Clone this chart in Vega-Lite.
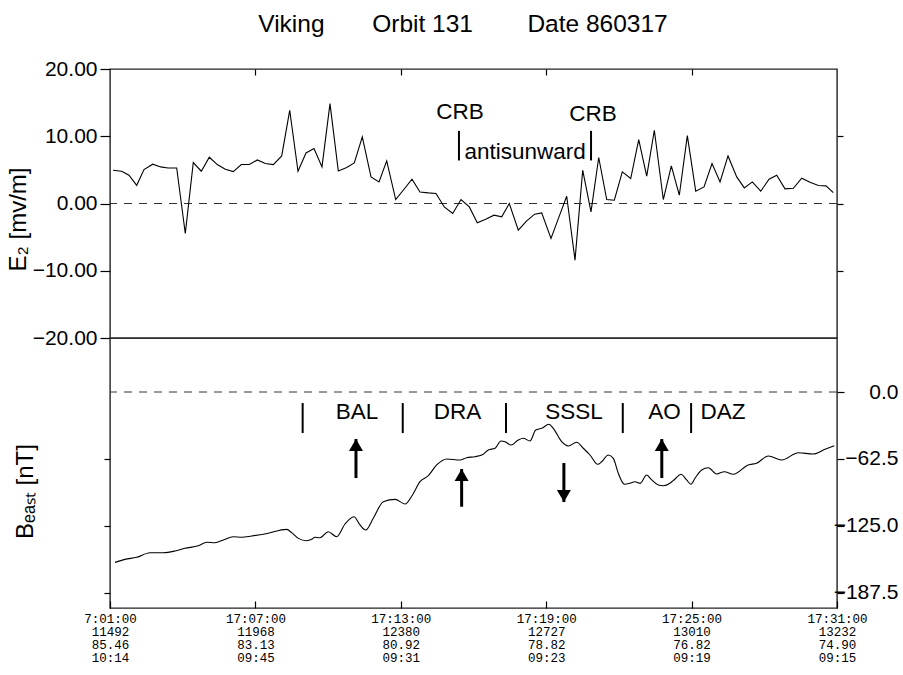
{
  "$schema": "https://vega.github.io/schema/vega-lite/v6.json",
  "background": "white",
  "padding": {"left": 5, "top": 11, "right": 0, "bottom": 0},
  "title": {
    "text": "Viking\u00a0\u00a0\u00a0\u00a0\u00a0\u00a0\u00a0Orbit 131\u00a0\u00a0\u00a0\u00a0\u00a0\u00a0\u00a0\u00a0Date 860317",
    "font": "Liberation Sans",
    "fontSize": 24.5,
    "fontWeight": "normal",
    "color": "black",
    "anchor": "middle",
    "offset": 20,
    "dx": 11
  },
  "spacing": 0,
  "bounds": "flush",
  "datasets": {
    "e2": [
      {"t": 0.124, "e": 4.95}, {"t": 0.483, "e": 4.8}, {"t": 0.784, "e": 4.2}, {"t": 1.102, "e": 2.7},
      {"t": 1.403, "e": 5.05}, {"t": 1.762, "e": 5.84}, {"t": 2.092, "e": 5.44}, {"t": 2.393, "e": 5.29},
      {"t": 2.752, "e": 5.29}, {"t": 3.107, "e": -4.46}, {"t": 3.437, "e": 6.09}, {"t": 3.768, "e": 4.8},
      {"t": 4.098, "e": 6.88}, {"t": 4.428, "e": 5.79}, {"t": 4.758, "e": 5.1}, {"t": 5.088, "e": 4.75},
      {"t": 5.418, "e": 5.79}, {"t": 5.748, "e": 5.79}, {"t": 6.079, "e": 6.48}, {"t": 6.409, "e": 5.94},
      {"t": 6.739, "e": 5.79}, {"t": 7.086, "e": 7.07}, {"t": 7.416, "e": 13.86}, {"t": 7.758, "e": 4.8},
      {"t": 8.088, "e": 7.52}, {"t": 8.418, "e": 8.17}, {"t": 8.748, "e": 5.44}, {"t": 9.078, "e": 14.86},
      {"t": 9.421, "e": 4.84}, {"t": 9.768, "e": 5.35}, {"t": 10.081, "e": 6.03}, {"t": 10.411, "e": 9.9},
      {"t": 10.77, "e": 3.95}, {"t": 11.101, "e": 3.21}, {"t": 11.418, "e": 6.33}, {"t": 11.79, "e": 0.59},
      {"t": 12.132, "e": 2.12}, {"t": 12.462, "e": 3.61}, {"t": 12.792, "e": 1.72}, {"t": 13.135, "e": 1.58},
      {"t": 13.452, "e": 1.49}, {"t": 13.795, "e": -0.51}, {"t": 14.142, "e": -1.49}, {"t": 14.484, "e": 0.59},
      {"t": 14.827, "e": -0.51}, {"t": 15.157, "e": -2.88}, {"t": 15.503, "e": -2.33}, {"t": 15.846, "e": -1.74},
      {"t": 16.164, "e": -1.99}, {"t": 16.477, "e": 0.0}, {"t": 16.849, "e": -3.97}, {"t": 17.195, "e": -2.59},
      {"t": 17.525, "e": -1.59}, {"t": 17.814, "e": -1.4}, {"t": 18.198, "e": -5.2}, {"t": 18.528, "e": -1.99},
      {"t": 18.846, "e": 1.08}, {"t": 19.189, "e": -8.42}, {"t": 19.506, "e": 4.95}, {"t": 19.849, "e": -1.25},
      {"t": 20.167, "e": 6.84}, {"t": 20.497, "e": 0.59}, {"t": 20.811, "e": 0.49}, {"t": 21.141, "e": 4.7},
      {"t": 21.488, "e": 3.71}, {"t": 21.818, "e": 9.51}, {"t": 22.148, "e": 4.06}, {"t": 22.462, "e": 10.89},
      {"t": 22.833, "e": 0.59}, {"t": 23.163, "e": 5.59}, {"t": 23.493, "e": 1.23}, {"t": 23.824, "e": 10.1},
      {"t": 24.17, "e": 1.83}, {"t": 24.513, "e": 2.47}, {"t": 24.843, "e": 5.94}, {"t": 25.173, "e": 3.21},
      {"t": 25.503, "e": 7.07}, {"t": 25.862, "e": 3.95}, {"t": 26.176, "e": 2.32}, {"t": 26.506, "e": 3.21},
      {"t": 26.853, "e": 1.83}, {"t": 27.195, "e": 3.61}, {"t": 27.513, "e": 4.21}, {"t": 27.855, "e": 2.17},
      {"t": 28.198, "e": 2.27}, {"t": 28.545, "e": 3.76}, {"t": 28.887, "e": 3.17}, {"t": 29.23, "e": 2.67},
      {"t": 29.546, "e": 2.62}, {"t": 29.847, "e": 1.63}
    ],
    "beast": [
      {"t": 0.206, "b": -159.0}, {"t": 0.619, "b": -156.2}, {"t": 1.102, "b": -154.3}, {"t": 1.651, "b": -150.0},
      {"t": 2.199, "b": -150.0}, {"t": 2.682, "b": -148.4}, {"t": 3.095, "b": -145.9}, {"t": 3.644, "b": -143.5},
      {"t": 3.99, "b": -140.3}, {"t": 4.333, "b": -140.7}, {"t": 4.675, "b": -138.1}, {"t": 5.088, "b": -135.1},
      {"t": 5.435, "b": -135.6}, {"t": 5.847, "b": -134.4}, {"t": 6.437, "b": -132.3}, {"t": 7.292, "b": -128.2},
      {"t": 7.498, "b": -131.3}, {"t": 7.77, "b": -136.6}, {"t": 8.117, "b": -138.8}, {"t": 8.323, "b": -137.5},
      {"t": 8.459, "b": -135.6}, {"t": 8.666, "b": -136.0}, {"t": 9.008, "b": -130.4}, {"t": 9.355, "b": -135.1},
      {"t": 9.697, "b": -123.2}, {"t": 10.069, "b": -116.4}, {"t": 10.316, "b": -124.1}, {"t": 10.552, "b": -128.8},
      {"t": 10.865, "b": -117.9}, {"t": 11.278, "b": -102.4}, {"t": 11.761, "b": -100.2}, {"t": 12.173, "b": -104.5},
      {"t": 12.483, "b": -96.1}, {"t": 12.792, "b": -83.7}, {"t": 13.135, "b": -78.1}, {"t": 13.481, "b": -68.1},
      {"t": 13.894, "b": -62.5}, {"t": 14.443, "b": -63.5}, {"t": 14.719, "b": -61.3}, {"t": 15.062, "b": -60.4},
      {"t": 15.404, "b": -58.1}, {"t": 15.611, "b": -54.1}, {"t": 15.887, "b": -52.5}, {"t": 16.135, "b": -45.7},
      {"t": 16.3, "b": -46.4}, {"t": 16.547, "b": -49.5}, {"t": 16.849, "b": -44.8}, {"t": 17.055, "b": -43.2},
      {"t": 17.331, "b": -45.7}, {"t": 17.567, "b": -35.5}, {"t": 17.814, "b": -33.9}, {"t": 18.116, "b": -30.1},
      {"t": 18.293, "b": -33.9}, {"t": 18.64, "b": -46.4}, {"t": 18.912, "b": -50.4}, {"t": 19.258, "b": -46.9},
      {"t": 19.531, "b": -52.5}, {"t": 19.807, "b": -58.8}, {"t": 20.125, "b": -67.5}, {"t": 20.29, "b": -65.1},
      {"t": 20.562, "b": -58.8}, {"t": 20.769, "b": -61.9}, {"t": 20.975, "b": -75.9}, {"t": 21.223, "b": -86.1},
      {"t": 21.458, "b": -85.2}, {"t": 21.664, "b": -83.7}, {"t": 21.871, "b": -85.2}, {"t": 22.147, "b": -77.5},
      {"t": 22.353, "b": -82.1}, {"t": 22.626, "b": -86.8}, {"t": 22.832, "b": -87.5}, {"t": 23.108, "b": -85.2},
      {"t": 23.315, "b": -81.2}, {"t": 23.562, "b": -76.8}, {"t": 23.797, "b": -82.1}, {"t": 23.975, "b": -86.1},
      {"t": 24.14, "b": -80.5}, {"t": 24.417, "b": -72.8}, {"t": 24.689, "b": -70.7}, {"t": 25.036, "b": -76.5},
      {"t": 25.349, "b": -74.4}, {"t": 25.721, "b": -76.8}, {"t": 26.34, "b": -68.1}, {"t": 26.686, "b": -66.5},
      {"t": 27.165, "b": -59.7}, {"t": 27.718, "b": -63.5}, {"t": 28.403, "b": -56.7}, {"t": 29.022, "b": -57.9},
      {"t": 29.505, "b": -53.5}, {"t": 29.888, "b": -50.1}
    ],
    "crbText": [
      {"t": 14.44, "y": 13.6, "label": "CRB"},
      {"t": 19.93, "y": 13.3, "label": "CRB"},
      {"t": 17.13, "y": 7.6, "label": "antisunward"}
    ],
    "crbBars": [
      {"t": 14.4, "lo": 6.4, "hi": 10.8},
      {"t": 19.85, "lo": 6.4, "hi": 10.8}
    ],
    "regionBars": [
      {"t": 7.95, "lo": -38.3, "hi": -10.3},
      {"t": 12.08, "lo": -38.3, "hi": -10.3},
      {"t": 16.34, "lo": -38.3, "hi": -10.3},
      {"t": 21.16, "lo": -38.3, "hi": -10.3},
      {"t": 23.98, "lo": -38.3, "hi": -10.3}
    ],
    "regionText": [
      {"t": 10.19, "y": -18.7, "label": "BAL"},
      {"t": 14.34, "y": -18.7, "label": "DRA"},
      {"t": 19.15, "y": -18.7, "label": "SSSL"},
      {"t": 22.88, "y": -18.7, "label": "AO"},
      {"t": 25.3, "y": -18.7, "label": "DAZ"}
    ],
    "arrows": [
      {"t": 10.15, "base": -80.3, "tip": -43.9, "dir": "up"},
      {"t": 14.51, "base": -107.1, "tip": -71.9, "dir": "up"},
      {"t": 18.73, "base": -66.3, "tip": -102.7, "dir": "down"},
      {"t": 22.77, "base": -80.3, "tip": -43.9, "dir": "up"}
    ]
  },
  "vconcat": [
    {
      "width": 727,
      "height": 269,
      "encoding": {
        "x": {
          "field": "t", "type": "quantitative",
          "scale": {"domain": [0, 30], "nice": false, "zero": false},
          "axis": {"orient": "top", "values": [6, 12, 18, 24], "labels": false, "tickSize": -6, "title": null}
        }
      },
      "layer": [
        {
          "data": {"values": [{"z": 0}]},
          "mark": {"type": "rule", "strokeDash": [8, 7], "color": "#333", "strokeWidth": 1},
          "encoding": {
            "x": null,
            "y": {
              "field": "z", "type": "quantitative",
              "scale": {"domain": [-20, 20], "nice": false, "zero": false},
              "axis": {
                "orient": "left", "values": [-20, -10, 0, 10, 20], "format": ".2f",
                "labelFontSize": 21, "labelFlush": false, "labelOverlap": false,
                "tickSize": 10, "labelPadding": 3,
                "title": "E\u2082  [mv/m]", "titleFontSize": 24, "titleAngle": -90,
                "titleX": -85, "titleY": 150, "titleAlign": "center", "titleBaseline": "alphabetic"
              }
            }
          }
        },
        {
          "data": {"name": "e2"},
          "mark": {"type": "line", "color": "black", "strokeWidth": 1.1},
          "encoding": {
            "y": {"field": "e", "type": "quantitative", "scale": {"domain": [-20, 20], "nice": false, "zero": false}, "axis": null}
          }
        },
        {
          "data": {"name": "crbText"},
          "mark": {"type": "text", "font": "Liberation Sans", "fontSize": 22.5, "color": "black", "align": "center", "baseline": "middle"},
          "encoding": {
            "y": {"field": "y", "type": "quantitative", "scale": {"domain": [-20, 20], "nice": false, "zero": false}, "axis": null},
            "text": {"field": "label"}
          }
        },
        {
          "data": {"name": "crbBars"},
          "mark": {"type": "rule", "color": "black", "strokeWidth": 2},
          "encoding": {
            "y": {
              "field": "lo", "type": "quantitative",
              "scale": {"domain": [-20, 20], "nice": false, "zero": false},
              "axis": {"orient": "right", "values": [-10, 0, 10], "labels": false, "tickSize": 6, "title": null}
            },
            "y2": {"field": "hi"}
          }
        }
      ],
      "resolve": {"scale": {"y": "independent"}, "axis": {"y": "independent"}}
    },
    {
      "width": 727,
      "height": 270,
      "encoding": {
        "x": {
          "field": "t", "type": "quantitative",
          "scale": {"domain": [0, 30], "nice": false, "zero": false},
          "axis": {
            "orient": "bottom", "values": [0, 6, 12, 18, 24, 30], "title": null,
            "tickSize": -7, "labelPadding": 11,
            "labelFont": "Liberation Mono", "labelFontSize": 12.5, "labelLineHeight": 13,
            "labelBaseline": "top", "labelFlush": false, "labelOverlap": false,
            "labelExpr": "[['\u00a07:01:00','11492','85.46','10:14'],['17:07:00','11968','83.13','09:45'],['17:13:00','12380','80.92','09:31'],['17:19:00','12727','78.82','09:23'],['17:25:00','13010','76.82','09:19'],['17:31:00','13232','74.90','09:15']][round(datum.value/6)]"
          }
        }
      },
      "layer": [
        {
          "data": {"values": [{"z": 0}]},
          "mark": {"type": "rule", "strokeDash": [8, 7], "color": "#333", "strokeWidth": 1},
          "encoding": {
            "x": null,
            "y": {
              "field": "z", "type": "quantitative",
              "scale": {"domain": [-201.6, 50.4], "nice": false, "zero": false},
              "axis": {
                "orient": "right", "values": [0, -62.5, -125, -187.5], "format": ".1f",
                "labelFontSize": 21, "labelFlush": false, "labelOverlap": false,
                "labelAlign": "right", "tickSize": 7, "labelPadding": 54, "title": null
              }
            }
          }
        },
        {
          "data": {"name": "beast"},
          "mark": {"type": "line", "color": "black", "strokeWidth": 1.1, "interpolate": "monotone"},
          "encoding": {
            "y": {"field": "b", "type": "quantitative", "scale": {"domain": [-201.6, 50.4], "nice": false, "zero": false}, "axis": null}
          }
        },
        {
          "data": {"name": "regionText"},
          "mark": {"type": "text", "font": "Liberation Sans", "fontSize": 22.5, "color": "black", "align": "center", "baseline": "middle"},
          "encoding": {
            "y": {"field": "y", "type": "quantitative", "scale": {"domain": [-201.6, 50.4], "nice": false, "zero": false}, "axis": null},
            "text": {"field": "label"}
          }
        },
        {
          "data": {"name": "arrows"},
          "mark": {"type": "rule", "color": "black", "strokeWidth": 3},
          "encoding": {
            "y": {"field": "base", "type": "quantitative", "scale": {"domain": [-201.6, 50.4], "nice": false, "zero": false}, "axis": null},
            "y2": {"field": "tip"}
          }
        },
        {
          "data": {"name": "arrows"},
          "transform": [{"filter": "datum.dir == 'up'"}],
          "mark": {"type": "point", "shape": "M-1,0.85L0,-0.85L1,0.85Z", "size": 196, "filled": true, "color": "black", "opacity": 1, "yOffset": 6},
          "encoding": {
            "y": {"field": "tip", "type": "quantitative", "scale": {"domain": [-201.6, 50.4], "nice": false, "zero": false}, "axis": null}
          }
        },
        {
          "data": {"name": "arrows"},
          "transform": [{"filter": "datum.dir == 'down'"}],
          "mark": {"type": "point", "shape": "M-1,-0.85L0,0.85L1,-0.85Z", "size": 196, "filled": true, "color": "black", "opacity": 1, "yOffset": -6},
          "encoding": {
            "y": {"field": "tip", "type": "quantitative", "scale": {"domain": [-201.6, 50.4], "nice": false, "zero": false}, "axis": null}
          }
        },
        {
          "data": {"name": "regionBars"},
          "mark": {"type": "rule", "color": "black", "strokeWidth": 2},
          "encoding": {
            "y": {
              "field": "lo", "type": "quantitative",
              "scale": {"domain": [-201.6, 50.4], "nice": false, "zero": false},
              "axis": {
                "orient": "left", "values": [-62.5, -125, -187.5], "labels": false, "tickSize": 6,
                "title": "B\u2091\u2090\u209b\u209c  [nT]", "titleFontSize": 24, "titleAngle": -90,
                "titleX": -78, "titleY": 153, "titleAlign": "center", "titleBaseline": "alphabetic"
              }
            },
            "y2": {"field": "hi"}
          }
        }
      ],
      "resolve": {"scale": {"y": "independent"}, "axis": {"y": "independent"}}
    }
  ],
  "config": {
    "view": {"stroke": "#222", "strokeWidth": 1.4},
    "axis": {
      "domain": false, "grid": false, "tickColor": "black", "tickWidth": 1.2,
      "labelColor": "black", "titleColor": "black",
      "labelFont": "Liberation Sans", "titleFont": "Liberation Sans", "titleFontWeight": "normal"
    }
  }
}
